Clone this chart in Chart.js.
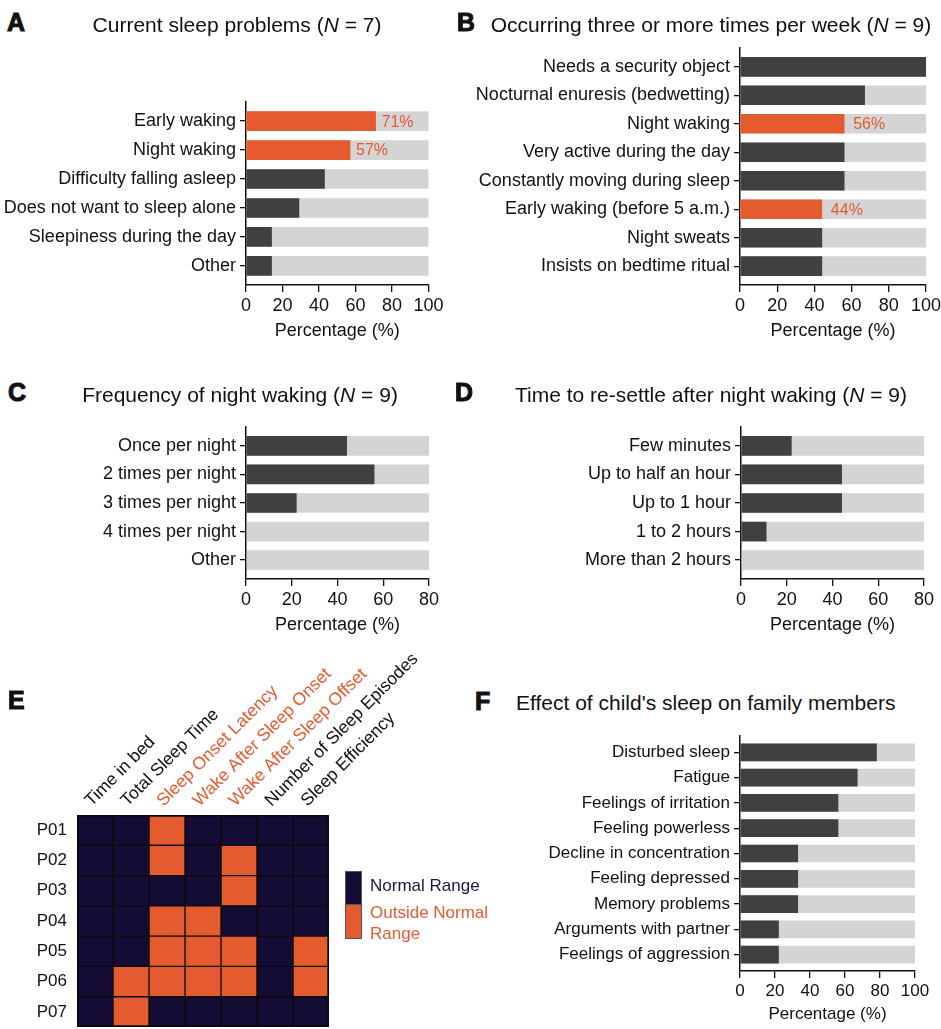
<!DOCTYPE html>
<html>
<head>
<meta charset="utf-8">
<style>
  body { margin: 0; background: #fff; width: 941px; height: 1029px; position: relative; overflow: hidden;
         font-family: 'Liberation Sans', Arial, sans-serif; color: #111; }
  canvas { position: absolute; }
  .ttl { position: absolute; width: 600px; text-align: center; font-size: 21px; line-height: 26px; white-space: nowrap; }
  .let { position: absolute; font-weight: bold; font-size: 25px; line-height: 30px; -webkit-text-stroke: 1px #111; }
  .key { position: absolute; font-size: 17px; line-height: 21px; }
</style>
</head>
<body>
<canvas id="cA"></canvas>
<canvas id="cB"></canvas>
<canvas id="cC"></canvas>
<canvas id="cD"></canvas>
<canvas id="cE"></canvas>
<canvas id="cF"></canvas>

<div class="let" style="left:7px;top:7px">A</div>
<div class="let" style="left:457px;top:7px">B</div>
<div class="let" style="left:8px;top:377px">C</div>
<div class="let" style="left:455px;top:377px">D</div>
<div class="let" style="left:8px;top:685px">E</div>
<div class="let" style="left:475px;top:686px">F</div>

<div class="ttl" style="left:-63px;top:12px">Current sleep problems (<i>N</i> = 7)</div>
<div class="ttl" style="left:411px;top:12px">Occurring three or more times per week (<i>N</i> = 9)</div>
<div class="ttl" style="left:-60px;top:382px">Frequency of night waking (<i>N</i> = 9)</div>
<div class="ttl" style="left:411px;top:382px">Time to re-settle after night waking (<i>N</i> = 9)</div>
<div class="ttl" style="left:516px;top:690px;width:auto;text-align:left">Effect of child's sleep on family members</div>

<div style="position:absolute;left:345px;top:871px;width:15px;height:33px;background:#140c34;border:1px solid #555;border-bottom:none"></div>
<div style="position:absolute;left:345px;top:904px;width:15px;height:33px;background:#e35b2f;border:1px solid #555"></div>
<div class="key" style="left:370px;top:875px;color:#1b1545">Normal Range</div>
<div class="key" style="left:370px;top:902px;color:#e35b2f">Outside Normal<br>Range</div>

<script src="https://cdn.jsdelivr.net/npm/chart.js@4.4.1/dist/chart.umd.min.js"></script>
<script>
  const INK = '#111'
  const DARK = '#404040'
  const GREY = '#d4d4d4'
  const ORANGE = '#e35b2f'
  const NAVY = '#140c34'

  // A: current sleep problems (N = 7)
  const catsA = ['Early waking', 'Night waking', 'Difficulty falling asleep', 'Does not want to sleep alone', 'Sleepiness during the day', 'Other']
  const valsA = [71, 57, 43, 29, 14, 14]
  const hotA = [0, 1]
  // B: occurring three or more times per week (N = 9)
  const catsB = ['Needs a security object', 'Nocturnal enuresis (bedwetting)', 'Night waking', 'Very active during the day', 'Constantly moving during sleep', 'Early waking (before 5 a.m.)', 'Night sweats', 'Insists on bedtime ritual']
  const valsB = [100, 67, 56, 56, 56, 44, 44, 44]
  const hotB = [2, 5]
  // C: frequency of night waking
  const catsC = ['Once per night', '2 times per night', '3 times per night', '4 times per night', 'Other']
  const valsC = [44, 56, 22, 0, 0]
  // D: time to re-settle
  const catsD = ['Few minutes', 'Up to half an hour', 'Up to 1 hour', '1 to 2 hours', 'More than 2 hours']
  const valsD = [22, 44, 44, 11, 0]
  // F: effect on family members
  const catsF = ['Disturbed sleep', 'Fatigue', 'Feelings of irritation', 'Feeling powerless', 'Decline in concentration', 'Feeling depressed', 'Memory problems', 'Arguments with partner', 'Feelings of aggression']
  const valsF = [78, 67, 56, 56, 33, 33, 33, 22, 22]

  const ticks100 = [0, 20, 40, 60, 80, 100]
  const ticks80 = [0, 20, 40, 60, 80]

  // E: actigraphy heatmap, 1 = outside normal range
  const hmCols = ['Time in bed', 'Total Sleep Time', 'Sleep Onset Latency', 'Wake After Sleep Onset', 'Wake After Sleep Offset', 'Number of Sleep Episodes', 'Sleep Efficiency']
  const hmHot = [2, 3, 4]
  const hmRows = ['P01', 'P02', 'P03', 'P04', 'P05', 'P06', 'P07']
  const hmOut = [
    [0, 0, 1, 0, 0, 0, 0],
    [0, 0, 1, 0, 1, 0, 0],
    [0, 0, 0, 0, 1, 0, 0],
    [0, 0, 1, 1, 0, 0, 0],
    [0, 0, 1, 1, 1, 0, 1],
    [0, 1, 1, 1, 1, 0, 1],
    [0, 1, 0, 0, 0, 0, 0]
  ]

  Chart.defaults.font.family = "'Liberation Sans', Arial, sans-serif"
  Chart.defaults.color = INK

  function place(id, b) {
    const cv = document.getElementById(id)
    cv.width = b.w
    cv.height = b.h
    Object.assign(cv.style, { left: b.x + 'px', top: b.y + 'px', width: b.w + 'px', height: b.h + 'px' })
    return cv
  }

  function pctLabels(vals, hot, gap) {
    return {
      id: 'pctLabels',
      afterDatasetsDraw(chart) {
        const ctx = chart.ctx
        const meta = chart.getDatasetMeta(0)
        ctx.save()
        ctx.fillStyle = ORANGE
        ctx.font = "16px 'Liberation Sans', Arial, sans-serif"
        ctx.textBaseline = 'middle'
        hot.forEach(i => {
          const el = meta.data[i]
          ctx.fillText(vals[i] + '%', el.x + gap, el.y + 1)
        })
        ctx.restore()
      }
    }
  }

  function barChart(id, box, area, cats, vals, hot, ticks, o) {
    const max = ticks[ticks.length - 1]
    new Chart(place(id, box), {
      type: 'bar',
      data: {
        datasets: [
          { data: vals.map((v, i) => ({ x: v, y: i })), backgroundColor: vals.map((v, i) => hot.includes(i) ? ORANGE : DARK), order: 0 },
          { data: cats.map((c, i) => ({ x: max, y: i })), backgroundColor: GREY, order: 1 }
        ]
      },
      options: {
        indexAxis: 'y',
        responsive: false,
        animation: false,
        datasets: { bar: { grouped: false, barThickness: o.thick } },
        layout: { padding: { top: area.t - box.y, right: box.x + box.w - area.r, left: 0, bottom: 0 } },
        plugins: { legend: { display: false }, tooltip: { enabled: false } },
        scales: {
          y: {
            type: 'linear', reverse: true, offset: false, min: -o.pad, max: cats.length - 1 + o.pad,
            afterBuildTicks: s => { s.ticks = cats.map((c, i) => ({ value: i })) },
            afterFit: s => { s.width = area.l - box.x; s.paddingTop = 0; s.paddingBottom = 0 },
            ticks: { autoSkip: false, callback: v => cats[v], padding: 4, color: INK, font: { size: o.fs } },
            grid: { offset: false, drawOnChartArea: false, drawTicks: true, tickLength: 6, color: INK, lineWidth: 1.3 },
            border: { display: true, color: INK, width: 1.5 }
          },
          x: {
            type: 'linear', min: 0, max: max,
            afterBuildTicks: s => { s.ticks = ticks.map(v => ({ value: v })) },
            afterFit: s => { s.height = box.y + box.h - area.b; s.paddingLeft = 0; s.paddingRight = 0 },
            ticks: { autoSkip: false, padding: 3, color: INK, font: { size: o.fs } },
            grid: { drawOnChartArea: false, drawTicks: true, tickLength: 7, color: INK, lineWidth: 1.3 },
            border: { display: true, color: INK, width: 1.5 },
            title: { display: true, text: 'Percentage (%)', color: INK, font: { size: o.fs }, padding: 0 }
          }
        }
      },
      plugins: hot.length ? [pctLabels(vals, hot, o.gap)] : []
    })
  }

  barChart('cA', { x: 0, y: 85, w: 455, h: 257 }, { l: 246, r: 428.5, t: 102, b: 285 },
    catsA, valsA, hotA, ticks100, { pad: 0.66, thick: 19, fs: 18, gap: 6 })
  barChart('cB', { x: 470, y: 30, w: 471, h: 312 }, { l: 740, r: 926, t: 48, b: 285 },
    catsB, valsB, hotB, ticks100, { pad: 0.66, thick: 19, fs: 18, gap: 9 })
  barChart('cC', { x: 0, y: 410, w: 455, h: 226 }, { l: 246, r: 429, t: 427, b: 579 },
    catsC, valsC, [], ticks80, { pad: 0.66, thick: 19, fs: 18 })
  barChart('cD', { x: 470, y: 410, w: 471, h: 226 }, { l: 741, r: 924, t: 427, b: 579 },
    catsD, valsD, [], ticks80, { pad: 0.66, thick: 19, fs: 18 })
  barChart('cF', { x: 470, y: 718, w: 471, h: 307 }, { l: 740, r: 915, t: 736, b: 971 },
    catsF, valsF, [], ticks100, { pad: 0.645, thick: 17, fs: 17 })

  // heatmap: one floating bar per cell, one dataset per column
  const boxE = { x: 0, y: 645, w: 450, h: 384 }
  const areaE = { l: 77, r: 329, t: 815, b: 1027 }
  new Chart(place('cE', boxE), {
    type: 'bar',
    data: {
      labels: hmRows,
      datasets: hmCols.map((col, c) => ({
        label: col,
        data: hmRows.map(() => [c, c + 1]),
        backgroundColor: hmRows.map((r, i) => hmOut[i][c] ? ORANGE : NAVY),
        borderColor: '#0a0a0a',
        borderSkipped: false,
        borderWidth: ctx => ({
          left: c === 0 ? 2 : 1, right: c === hmCols.length - 1 ? 2 : 1,
          top: ctx.dataIndex === 0 ? 2 : 1, bottom: ctx.dataIndex === hmRows.length - 1 ? 2 : 1
        })
      }))
    },
    options: {
      indexAxis: 'y',
      responsive: false,
      animation: false,
      datasets: { bar: { grouped: false, barPercentage: 1, categoryPercentage: 1 } },
      layout: { padding: { top: 0, left: 0, right: boxE.x + boxE.w - areaE.r, bottom: boxE.y + boxE.h - areaE.b } },
      plugins: { legend: { display: false }, tooltip: { enabled: false } },
      scales: {
        y: {
          type: 'category', offset: true,
          afterFit: s => { s.width = areaE.l - boxE.x; s.paddingTop = 0; s.paddingBottom = 0 },
          grid: { display: false, drawTicks: false }, border: { display: false },
          ticks: { padding: 10, color: INK, font: { size: 17 } }
        },
        x: {
          type: 'linear', position: 'top', min: 0, max: hmCols.length,
          afterBuildTicks: s => { s.ticks = hmCols.map((c, i) => ({ value: i + 0.5 })) },
          afterFit: s => { s.height = areaE.t - boxE.y; s.paddingLeft = 0; s.paddingRight = 0 },
          grid: { display: false, drawTicks: false }, border: { display: false },
          ticks: {
            autoSkip: false, minRotation: 45, maxRotation: 45, padding: 4, labelOffset: 8,
            callback: (v, i) => hmCols[i],
            color: ctx => hmHot.includes(ctx.index) ? ORANGE : INK,
            font: { size: 17.5 }
          }
        }
      }
    }
  })
</script>
</body>
</html>
